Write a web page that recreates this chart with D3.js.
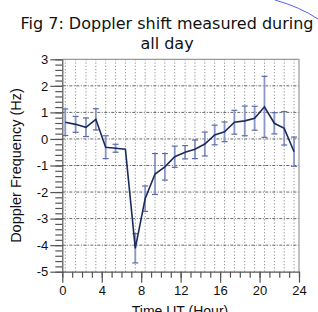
<!DOCTYPE html>
<html>
<head>
<meta charset="utf-8">
<script src="https://cdn.jsdelivr.net/npm/d3@7"></script>
<style>
  body { margin: 0; background: #fff; }
  svg { display: block; }
</style>
</head>
<body>
<script>
const width = 318;
const height = 312;

// hour of each measurement (UT)
const hours = [0.3, 1.35, 2.4, 3.4, 4.4, 5.4, 6.4, 7.4, 8.4, 9.4, 10.4, 11.4,
  12.45, 13.45, 14.45, 15.45, 16.45, 17.45, 18.5, 19.5, 20.5, 21.5, 22.5, 23.5];
// mean doppler shift (Hz)
const doppler = [0.63, 0.55, 0.44, 0.74, -0.31, -0.35, -0.39, -4.12, -2.25, -1.32, -1.05, -0.67,
  -0.5, -0.39, -0.19, 0.15, 0.27, 0.63, 0.68, 0.78, 1.21, 0.59, 0.4, -0.48];
// error bar half length (Hz)
const errors = [0.5, 0.3, 0.35, 0.4, 0.43, 0.15, 0, 0.55, 0.48, 0.77, 0.5, 0.4,
  0.25, 0.35, 0.45, 0.37, 0.37, 0.45, 0.56, 0.45, 1.15, 0.4, 0.63, 0.55];

const xMajor = [0, 4, 8, 12, 16, 20, 24];
const yMajor = [-5, -4, -3, -2, -1, 0, 1, 2, 3];

const x = d3.scaleLinear().domain([0, 24]).range([62.3, 299]);
const y = d3.scaleLinear().domain([-5, 3]).range([271.7, 59.3]);

const svg = d3.select("body").append("svg")
  .attr("width", width)
  .attr("height", height);

// stray blue pen stroke top right
svg.append("path")
  .attr("d", "M275,0 Q300,7 318,19")
  .attr("fill", "none")
  .attr("stroke", "#5560f0")
  .attr("stroke-width", 1);

// title
const title = svg.append("text")
  .attr("text-anchor", "middle")
  .attr("font-family", "DejaVu Sans, Verdana, sans-serif")
  .attr("font-size", 16)
  .attr("fill", "#111");
title.append("tspan").attr("x", 167).attr("y", 29).text("Fig 7: Doppler shift measured during");
title.append("tspan").attr("x", 167).attr("y", 49).text("all day");

// grid
svg.append("g").selectAll("line")
  .data(hours)
  .enter()
  .append("line")
  .attr("x1", (d) => x(d))
  .attr("x2", (d) => x(d))
  .attr("y1", y(3))
  .attr("y2", y(-5))
  .attr("stroke", "#8a8a8a")
  .attr("stroke-dasharray", "1.2,2");

svg.append("g").selectAll("line")
  .data(yMajor.filter((d) => d > -5 && d < 3))
  .enter()
  .append("line")
  .attr("x1", x(0))
  .attr("x2", x(24))
  .attr("y1", (d) => y(d))
  .attr("y2", (d) => y(d))
  .attr("stroke", "#666")
  .attr("stroke-dasharray", "3,1.5,1,1.5");

// frame top/right
svg.append("path")
  .attr("d", "M" + x(0) + "," + y(3) + "H" + x(24) + "V" + y(-5))
  .attr("fill", "none")
  .attr("stroke", "#9a9a9a")
  .attr("stroke-width", 1.2);

// axes
const axisColor = "#555";
function styleAxis(g) {
  g.selectAll("path, line").attr("stroke", axisColor).attr("stroke-width", 1.2);
  g.selectAll("text").attr("font-family", "Liberation Sans, Arial, sans-serif")
    .attr("font-size", 13).attr("fill", "#111");
}

svg.append("g")
  .attr("transform", "translate(0," + y(-5) + ")")
  .call(d3.axisBottom(x).tickValues(d3.range(0, 25)).tickSize(6).tickFormat("").tickSizeOuter(0))
  .call(styleAxis);
svg.append("g")
  .attr("transform", "translate(0," + y(-5) + ")")
  .call(d3.axisBottom(x).tickValues(xMajor).tickSize(11).tickPadding(3).tickSizeOuter(0))
  .call(styleAxis)
  .call((g) => g.select(".domain").remove());

svg.append("g")
  .attr("transform", "translate(" + x(0) + ",0)")
  .call(d3.axisLeft(y).tickValues(d3.range(-50, 31, 2).map((d) => d / 10)).tickSize(7).tickFormat("").tickSizeOuter(0))
  .call(styleAxis);
svg.append("g")
  .attr("transform", "translate(" + x(0) + ",0)")
  .call(d3.axisLeft(y).tickValues(yMajor).tickSize(12).tickPadding(2).tickFormat(d3.format("d")).tickSizeOuter(0))
  .call(styleAxis)
  .call((g) => g.select(".domain").remove())
  .call((g) => g.selectAll("text").text((d) => d < 0 ? "-" + Math.abs(d) : d));

// axis titles
svg.append("text")
  .attr("x", 180)
  .attr("y", 316)
  .attr("text-anchor", "middle")
  .attr("font-family", "Liberation Sans, Arial, sans-serif")
  .attr("font-size", 14)
  .attr("fill", "#111")
  .text("Time UT (Hour)");

svg.append("text")
  .attr("transform", "translate(21," + y(-1) + ") rotate(-90)")
  .attr("text-anchor", "middle")
  .attr("font-family", "Liberation Sans, Arial, sans-serif")
  .attr("font-size", 14.5)
  .attr("fill", "#111")
  .text("Doppler Frequency (Hz)");

// error bars
const pts = hours.map((h, i) => ({ h: h, v: doppler[i], e: errors[i] }));
const bars = svg.append("g").selectAll("g")
  .data(pts.filter((d) => d.e > 0))
  .enter()
  .append("g");

bars.append("line")
  .attr("x1", (d) => x(d.h))
  .attr("x2", (d) => x(d.h))
  .attr("y1", (d) => y(d.v + d.e))
  .attr("y2", (d) => y(d.v - d.e))
  .attr("stroke", "#8a97c4")
  .attr("stroke-width", 1.8);

bars.selectAll(".cap")
  .data((d) => [{ h: d.h, v: d.v + d.e }, { h: d.h, v: d.v - d.e }])
  .enter()
  .append("line")
  .attr("class", "cap")
  .attr("x1", (d) => x(d.h) - 3)
  .attr("x2", (d) => x(d.h) + 3)
  .attr("y1", (d) => y(d.v))
  .attr("y2", (d) => y(d.v))
  .attr("stroke", "#5a6aa6")
  .attr("stroke-width", 1.2);

// mean line
svg.append("path")
  .datum(pts)
  .attr("fill", "none")
  .attr("stroke", "#1c2b5e")
  .attr("stroke-width", 1.6)
  .attr("d", d3.line().x((d) => x(d.h)).y((d) => y(d.v)));
</script>
</body>
</html>
